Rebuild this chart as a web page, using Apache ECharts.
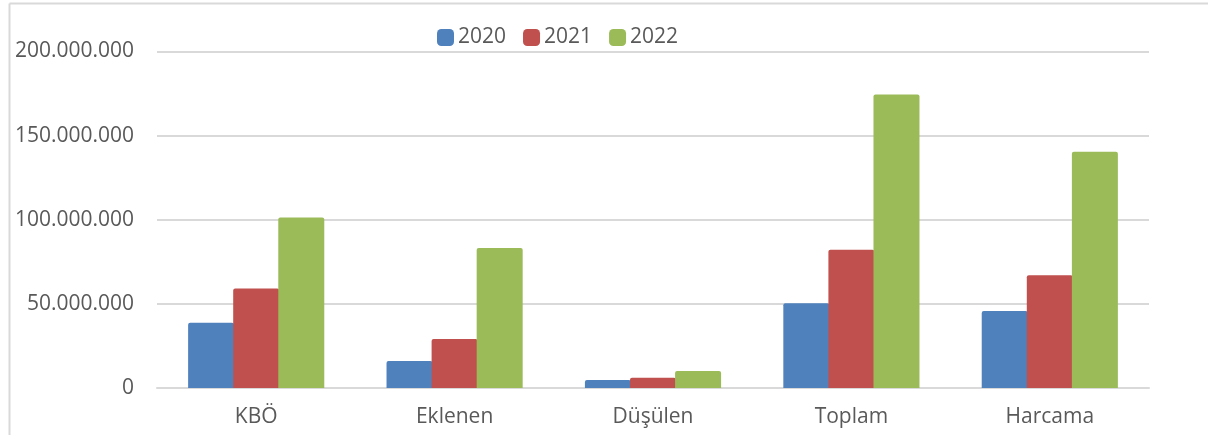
<!DOCTYPE html>
<html>
<head>
<meta charset="utf-8">
<script src="https://cdn.jsdelivr.net/npm/echarts@6/dist/echarts.min.js"></script>
<style>
  html, body { margin: 0; padding: 0; background: #fff; }
  #chart { width: 1208px; height: 435px; }
</style>
</head>
<body>
<div id="chart"></div>
<script>
// kategoriler ve yıllık değerler
const categories = ["KBÖ", "Eklenen", "Düşülen", "Toplam", "Harcama"];
const years = ["2020", "2021", "2022"];
const values2020 = [38800000, 16000000, 4800000, 50300000, 45700000];
const values2021 = [59200000, 29100000, 6100000, 82200000, 67000000];
const values2022 = [101400000, 83200000, 10100000, 174500000, 140400000];
const yTicks = [0, 50000000, 100000000, 150000000, 200000000];

const colors = ["#4F81BD", "#C0504D", "#9BBB59"];
const textColor = "#595959";
const gridColor = "#D9D9D9";
const fontFamily = "'Open Sans', sans-serif";

// binlik ayırıcı nokta
const formatNum = (v) => String(v).replace(/\B(?=(\d{3})+(?!\d))/g, ".");

const chart = echarts.init(document.getElementById("chart"), null, { renderer: "canvas" });

const seriesData = [values2020, values2021, values2022];

const option = {
  animation: false,
  color: colors,
  textStyle: { fontFamily: fontFamily },
  graphic: [
    {
      type: "line",
      shape: { x1: 9.5, y1: 3.5, x2: 9.5, y2: 435 },
      style: { stroke: gridColor, lineWidth: 2 },
      silent: true,
    },
    {
      type: "line",
      shape: { x1: 9.5, y1: 3.5, x2: 1208, y2: 3.5 },
      style: { stroke: gridColor, lineWidth: 2 },
      silent: true,
    },
  ],
  legend: {
    data: years,
    left: 432,
    top: 22,
    icon: "roundRect",
    itemWidth: 17,
    itemHeight: 17,
    itemGap: 17,
    textStyle: {
      color: textColor,
      fontSize: 21,
      fontFamily: fontFamily,
      padding: [0, 0, 0, -1],
    },
  },
  grid: {
    left: 157,
    right: 59,
    top: 51.5,
    bottom: 47,
    containLabel: false,
  },
  xAxis: {
    type: "category",
    data: categories,
    axisLine: { lineStyle: { color: gridColor, width: 2 } },
    axisTick: { show: false },
    axisLabel: {
      color: textColor,
      fontSize: 21,
      fontFamily: fontFamily,
      margin: 19,
    },
  },
  yAxis: {
    type: "value",
    min: yTicks[0],
    max: yTicks[yTicks.length - 1],
    interval: yTicks[1] - yTicks[0],
    axisLine: { show: false },
    axisTick: { show: false },
    splitLine: { lineStyle: { color: gridColor, width: 2 } },
    axisLabel: {
      color: textColor,
      fontSize: 21,
      fontFamily: fontFamily,
      margin: 23,
      formatter: (v) => formatNum(v),
    },
  },
  series: years.map((y, i) => ({
    name: y,
    type: "bar",
    data: seriesData[i],
    barWidth: 46,
    barGap: "-2%",
    itemStyle: {
      color: colors[i],
      borderRadius: [2, 2, 0, 0],
    },
  })),
};

chart.setOption(option);
</script>
</body>
</html>
